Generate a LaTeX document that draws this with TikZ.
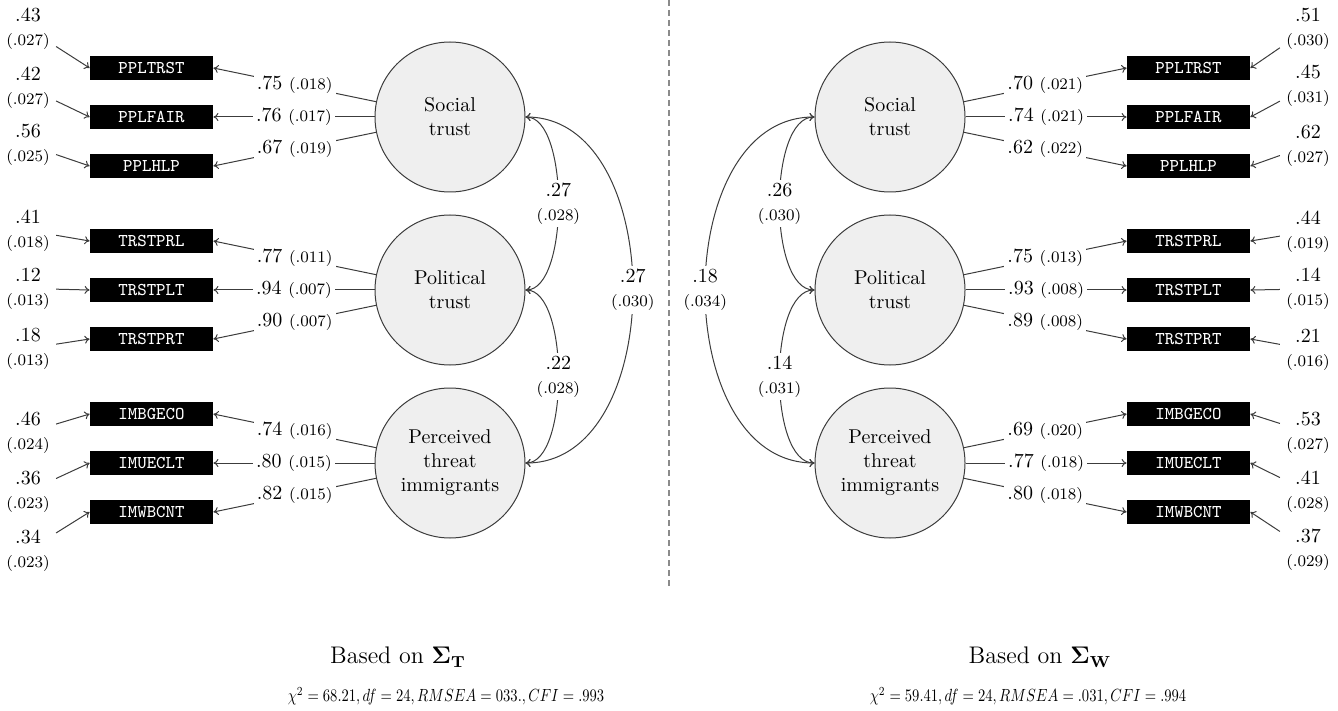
\documentclass[tikz,border=0pt]{standalone}
\usepackage{graphicx}
\usetikzlibrary{arrows.meta}
\definecolor{linec}{HTML}{3C3C3C}
\definecolor{circfill}{HTML}{EFEFEF}
\definecolor{dashc}{HTML}{8A8A8A}
\begin{document}
\begin{tikzpicture}[x=0.5pt,y=-0.5pt,
  obs/.style={fill=black,text=white,font=\ttfamily\small,minimum width=61.5pt,minimum height=12pt,inner sep=0pt},
  lat/.style={circle,draw=linec,line width=0.5pt,fill=circfill,minimum size=75pt,inner sep=0pt,align=center,font=\normalsize},
  res/.style={align=center,inner sep=3pt,font=\normalsize},
  lab/.style={fill=white,inner sep=1.5pt,font=\normalsize,align=center},
  conn/.style={draw=linec,line width=0.5pt,-{To[length=2.5pt,width=4pt]}},
  cov/.style={draw=linec,line width=0.5pt,{To[length=2.5pt,width=4pt]}-{To[length=2.5pt,width=4pt]}},
  sep/.style={draw=dashc,line width=0.8pt,dash pattern=on 3pt off 2pt},
  fit/.style={inner sep=1pt},
]
\useasboundingbox (0,0) rectangle (1338,711);

% ---------- left panel ----------
\node[lat] (lS) at (450,117) {Social\\trust};
\node[lat] (lP) at (450,290) {Political\\trust};
\node[lat] (lI) at (450,463) {Perceived\\threat\\immigrants};

\node[obs] (L1) at (151.5,68) {PPLTRST};
\node[obs] (L2) at (151.5,117) {PPLFAIR};
\node[obs] (L3) at (151.5,166) {PPLHLP};
\node[obs] (L4) at (151.5,241) {TRSTPRL};
\node[obs] (L5) at (151.5,290) {TRSTPLT};
\node[obs] (L6) at (151.5,339) {TRSTPRT};
\node[obs] (L7) at (151.5,414) {IMBGECO};
\node[obs] (L8) at (151.5,463) {IMUECLT};
\node[obs] (L9) at (151.5,512) {IMWBCNT};

\node[res] (eL1) at (28,28.5) {.43\\{\footnotesize(.027)}};
\node[res] (eL2) at (28,87.5) {.42\\{\footnotesize(.027)}};
\node[res] (eL3) at (28,145) {.56\\{\footnotesize(.025)}};
\node[res] (eL4) at (28,230.5) {.41\\{\footnotesize(.018)}};
\node[res] (eL5) at (28,288.5) {.12\\{\footnotesize(.013)}};
\node[res] (eL6) at (28,348.5) {.18\\{\footnotesize(.013)}};
\node[res] (eL7) at (28,432.5) {.46\\{\footnotesize(.024)}};
\node[res] (eL8) at (28,491.5) {.36\\{\footnotesize(.023)}};
\node[res] (eL9) at (28,550.5) {.34\\{\footnotesize(.023)}};

\foreach \i in {1,...,9} {\draw[conn] (eL\i) -- (L\i.west);}

\draw[conn] (lS) -- node[lab]{.75 {\footnotesize(.018)}} (L1.east);
\draw[conn] (lS) -- node[lab]{.76 {\footnotesize(.017)}} (L2.east);
\draw[conn] (lS) -- node[lab]{.67 {\footnotesize(.019)}} (L3.east);
\draw[conn] (lP) -- node[lab]{.77 {\footnotesize(.011)}} (L4.east);
\draw[conn] (lP) -- node[lab]{.94 {\footnotesize(.007)}} (L5.east);
\draw[conn] (lP) -- node[lab]{.90 {\footnotesize(.007)}} (L6.east);
\draw[conn] (lI) -- node[lab]{.74 {\footnotesize(.016)}} (L7.east);
\draw[conn] (lI) -- node[lab]{.80 {\footnotesize(.015)}} (L8.east);
\draw[conn] (lI) -- node[lab]{.82 {\footnotesize(.015)}} (L9.east);

\draw[cov] (lS.east) to[out=0,in=0,looseness=0.65] node[lab]{.27\\{\footnotesize(.028)}} (lP.east);
\draw[cov] (lP.east) to[out=0,in=0,looseness=0.65] node[lab]{.22\\{\footnotesize(.028)}} (lI.east);
\draw[cov] (lS.east) to[out=0,in=0,looseness=1.06] node[lab]{.27\\{\footnotesize(.030)}} (lI.east);

% ---------- separator ----------
\coordinate (dT) at (669,0);
\coordinate (dB) at (669,587);
\draw[sep] (dT) -- (dB);

% ---------- right panel ----------
\node[lat] (rS) at (890,117) {Social\\trust};
\node[lat] (rP) at (890,290) {Political\\trust};
\node[lat] (rI) at (890,463) {Perceived\\threat\\immigrants};

\node[obs] (R1) at (1188.5,68) {PPLTRST};
\node[obs] (R2) at (1188.5,117) {PPLFAIR};
\node[obs] (R3) at (1188.5,166) {PPLHLP};
\node[obs] (R4) at (1188.5,241) {TRSTPRL};
\node[obs] (R5) at (1188.5,290) {TRSTPLT};
\node[obs] (R6) at (1188.5,339) {TRSTPRT};
\node[obs] (R7) at (1188.5,414) {IMBGECO};
\node[obs] (R8) at (1188.5,463) {IMUECLT};
\node[obs] (R9) at (1188.5,512) {IMWBCNT};

\node[res] (eR1) at (1308,28.5) {.51\\{\footnotesize(.030)}};
\node[res] (eR2) at (1308,86) {.45\\{\footnotesize(.031)}};
\node[res] (eR3) at (1308,145.5) {.62\\{\footnotesize(.027)}};
\node[res] (eR4) at (1308,231.5) {.44\\{\footnotesize(.019)}};
\node[res] (eR5) at (1308,289) {.14\\{\footnotesize(.015)}};
\node[res] (eR6) at (1308,349.5) {.21\\{\footnotesize(.016)}};
\node[res] (eR7) at (1308,432.5) {.53\\{\footnotesize(.027)}};
\node[res] (eR8) at (1308,491.5) {.41\\{\footnotesize(.028)}};
\node[res] (eR9) at (1308,550) {.37\\{\footnotesize(.029)}};

\foreach \i in {1,...,9} {\draw[conn] (eR\i) -- (R\i.east);}

\draw[conn] (rS) -- node[lab]{.70 {\footnotesize(.021)}} (R1.west);
\draw[conn] (rS) -- node[lab]{.74 {\footnotesize(.021)}} (R2.west);
\draw[conn] (rS) -- node[lab]{.62 {\footnotesize(.022)}} (R3.west);
\draw[conn] (rP) -- node[lab]{.75 {\footnotesize(.013)}} (R4.west);
\draw[conn] (rP) -- node[lab]{.93 {\footnotesize(.008)}} (R5.west);
\draw[conn] (rP) -- node[lab]{.89 {\footnotesize(.008)}} (R6.west);
\draw[conn] (rI) -- node[lab]{.69 {\footnotesize(.020)}} (R7.west);
\draw[conn] (rI) -- node[lab]{.77 {\footnotesize(.018)}} (R8.west);
\draw[conn] (rI) -- node[lab]{.80 {\footnotesize(.018)}} (R9.west);

\draw[cov] (rS.west) to[out=180,in=180,looseness=0.69] node[lab]{.26\\{\footnotesize(.030)}} (rP.west);
\draw[cov] (rP.west) to[out=180,in=180,looseness=0.69] node[lab]{.14\\{\footnotesize(.031)}} (rI.west);
\draw[cov] (rS.west) to[out=180,in=180,looseness=1.08] node[lab]{.18\\{\footnotesize(.034)}} (rI.west);

% ---------- captions ----------
\node[font=\large] (capL) at (398,657) {Based on $\mathbf{\Sigma}_{\mathbf{T}}$};
\node[fit] (fitL) at (446,696) {\scalebox{0.73}[0.88]{$\chi^2 = 68.21, df = 24, RMSEA = 033., CFI = .993$}};
\node[font=\large] (capR) at (1040,657) {Based on $\mathbf{\Sigma}_{\mathbf{W}}$};
\node[fit] (fitR) at (1028,696) {\scalebox{0.73}[0.88]{$\chi^2 = 59.41, df = 24, RMSEA = .031, CFI = .994$}};
\end{tikzpicture}
\end{document}
